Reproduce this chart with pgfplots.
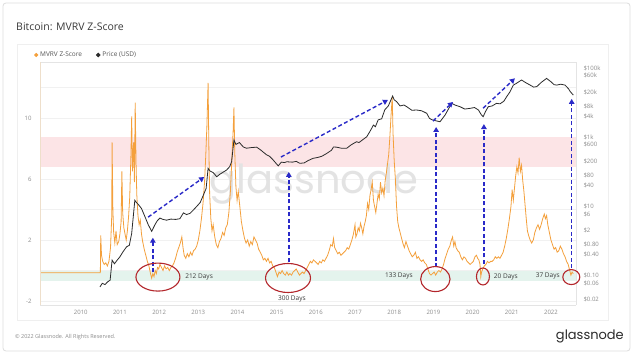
\documentclass[border=0pt]{standalone}
\usepackage{pgfplots}
\pgfplotsset{compat=1.18}
\usepackage{fontspec}
\setmainfont{Open Sans}
\newfontfamily\pop{Poppins}
\usetikzlibrary{arrows.meta}
\definecolor{zorange}{HTML}{F4A03C}
\definecolor{pblack}{HTML}{2B2B2B}
\definecolor{bandpink}{HTML}{FCE4E6}
\definecolor{bandgreen}{HTML}{E4F3ED}
\definecolor{arrowblue}{HTML}{2A2AC8}
\definecolor{cred}{HTML}{B3262B}
\definecolor{gridgray}{HTML}{F1F1F1}
\definecolor{labgray}{HTML}{8C8C8C}
\definecolor{axgray}{HTML}{E4E4E4}
\definecolor{axtan}{HTML}{EEDFCB}
\definecolor{wm}{HTML}{E3E3E3}
\definecolor{titlec}{HTML}{3A3A3A}
\definecolor{legtext}{HTML}{555555}
\definecolor{cardgray}{HTML}{DDDDDD}
\definecolor{panelgray}{HTML}{EFEFEF}

\pgfplotstableread{
x z
2008.96 -0.15
2010.50 -0.15
2010.51 2.3
2010.53 1.0
2010.56 0.6
2010.60 0.4
2010.64 0.5
2010.68 0.3
2010.72 0.6
2010.76 1.5
2010.79 3.5
2010.80 8.4
2010.82 4.0
2010.84 2.5
2010.87 1.8
2010.90 2.6
2010.93 1.7
2010.97 1.9
2011.00 2.4
2011.03 3.2
2011.05 6.5
2011.07 3.8
2011.10 2.8
2011.13 2.4
2011.16 2.0
2011.19 2.6
2011.22 3.5
2011.25 4.8
2011.28 7.5
2011.30 10.1
2011.32 6.5
2011.35 8.4
2011.37 5.8
2011.39 11.0
2011.41 7.2
2011.43 5.0
2011.46 3.6
2011.49 3.0
2011.52 3.3
2011.55 2.4
2011.58 1.9
2011.62 1.4
2011.66 1.0
2011.70 0.6
2011.74 0.3
2011.78 -0.2
2011.81 -0.5
2011.84 -0.2
2011.87 -0.4
2011.90 0.0
2011.93 -0.2
2011.96 0.2
2011.99 0.1
2012.02 0.4
2012.06 0.2
2012.10 0.0
2012.14 0.3
2012.18 0.1
2012.22 0.2
2012.26 0.0
2012.30 0.2
2012.34 0.3
2012.38 0.5
2012.42 0.8
2012.46 1.2
2012.50 1.5
2012.54 1.8
2012.58 2.2
2012.61 1.5
2012.64 1.0
2012.68 0.8
2012.72 1.1
2012.76 0.9
2012.80 1.2
2012.84 1.0
2012.88 1.3
2012.92 1.4
2012.96 1.6
2013.00 2.0
2013.04 2.6
2013.08 3.4
2013.12 4.4
2013.16 5.8
2013.19 7.5
2013.22 9.5
2013.25 12.3
2013.27 8.0
2013.29 5.0
2013.32 3.4
2013.35 2.6
2013.38 3.0
2013.42 2.2
2013.46 1.7
2013.50 1.5
2013.54 1.9
2013.58 2.1
2013.62 2.5
2013.66 2.3
2013.70 2.8
2013.74 3.0
2013.78 3.8
2013.82 5.2
2013.86 7.5
2013.89 9.2
2013.91 10.7
2013.93 7.8
2013.96 5.5
2013.99 4.6
2014.02 5.2
2014.06 4.2
2014.10 3.2
2014.14 2.6
2014.18 2.1
2014.22 1.8
2014.26 2.0
2014.30 1.6
2014.34 1.9
2014.38 1.7
2014.42 2.2
2014.46 2.0
2014.50 1.8
2014.54 1.4
2014.58 1.2
2014.62 1.0
2014.66 0.7
2014.70 0.8
2014.74 0.6
2014.78 0.8
2014.82 0.5
2014.86 0.6
2014.90 0.3
2014.94 0.2
2014.98 -0.1
2015.02 -0.4
2015.06 -0.1
2015.10 -0.2
2015.14 0.0
2015.18 -0.2
2015.22 -0.3
2015.26 -0.1
2015.30 -0.3
2015.34 -0.2
2015.38 -0.3
2015.42 -0.1
2015.46 0.0
2015.50 0.1
2015.54 -0.1
2015.58 -0.3
2015.62 -0.2
2015.66 -0.1
2015.70 -0.2
2015.74 0.0
2015.78 0.2
2015.82 0.4
2015.86 0.6
2015.90 0.5
2015.94 0.7
2015.98 0.6
2016.02 0.5
2016.06 0.4
2016.10 0.6
2016.14 0.5
2016.18 0.7
2016.22 0.6
2016.26 0.8
2016.30 1.0
2016.34 1.3
2016.38 1.7
2016.42 1.6
2016.45 2.1
2016.48 1.5
2016.52 1.3
2016.56 1.1
2016.60 1.2
2016.64 1.0
2016.68 1.1
2016.72 1.2
2016.76 1.3
2016.80 1.5
2016.84 1.4
2016.88 1.7
2016.92 2.0
2016.96 2.4
2017.00 3.0
2017.02 2.2
2017.05 2.4
2017.08 2.8
2017.11 2.6
2017.14 3.1
2017.17 2.8
2017.20 2.4
2017.23 2.9
2017.26 3.2
2017.29 3.6
2017.32 4.4
2017.35 4.0
2017.38 4.9
2017.41 5.3
2017.44 5.8
2017.47 4.6
2017.50 4.2
2017.53 3.8
2017.56 4.4
2017.59 5.0
2017.62 4.7
2017.65 5.8
2017.68 5.1
2017.71 5.4
2017.74 4.9
2017.77 5.9
2017.80 6.4
2017.83 7.0
2017.86 7.6
2017.89 8.8
2017.92 10.2
2017.95 11.4
2017.97 9.0
2018.00 7.2
2018.03 6.0
2018.06 4.2
2018.09 3.2
2018.12 2.8
2018.15 2.5
2018.18 2.2
2018.22 1.8
2018.26 1.5
2018.30 1.9
2018.34 1.6
2018.38 1.3
2018.42 1.1
2018.46 0.9
2018.50 1.0
2018.54 1.2
2018.58 0.8
2018.62 0.9
2018.66 0.7
2018.70 0.6
2018.74 0.7
2018.78 0.5
2018.82 0.4
2018.86 0.1
2018.90 -0.2
2018.94 -0.3
2018.98 -0.2
2019.02 -0.1
2019.06 -0.3
2019.10 -0.1
2019.14 0.0
2019.18 -0.1
2019.22 0.1
2019.26 0.4
2019.30 0.8
2019.34 1.1
2019.38 1.4
2019.42 1.6
2019.46 2.0
2019.49 2.2
2019.52 1.6
2019.55 1.9
2019.58 1.5
2019.62 1.3
2019.66 1.2
2019.70 0.9
2019.74 0.7
2019.78 0.9
2019.82 0.8
2019.86 0.6
2019.90 0.5
2019.94 0.4
2019.98 0.5
2020.02 0.6
2020.06 0.9
2020.10 1.0
2020.13 0.8
2020.16 0.7
2020.19 0.4
2020.21 -0.4
2020.23 -0.1
2020.26 0.1
2020.30 0.3
2020.34 0.4
2020.38 0.6
2020.42 0.5
2020.46 0.6
2020.50 0.6
2020.54 0.7
2020.58 0.9
2020.62 0.8
2020.66 0.9
2020.70 0.8
2020.74 1.0
2020.78 1.2
2020.82 1.6
2020.86 2.1
2020.90 2.7
2020.94 3.4
2020.98 4.2
2021.01 5.3
2021.04 4.6
2021.07 5.4
2021.10 6.2
2021.13 6.8
2021.16 6.4
2021.19 7.4
2021.22 6.5
2021.25 6.9
2021.28 5.9
2021.31 5.2
2021.34 4.3
2021.37 3.4
2021.40 2.6
2021.43 2.3
2021.47 2.0
2021.51 1.8
2021.55 2.0
2021.59 2.5
2021.63 2.8
2021.67 3.0
2021.71 2.7
2021.75 3.0
2021.79 3.4
2021.83 3.7
2021.86 3.4
2021.89 3.6
2021.92 3.0
2021.96 2.5
2022.00 2.0
2022.04 1.7
2022.08 1.4
2022.12 1.5
2022.16 1.2
2022.20 1.3
2022.24 1.6
2022.28 1.4
2022.32 1.1
2022.36 0.9
2022.40 0.6
2022.44 0.4
2022.48 0.0
2022.51 -0.3
2022.54 -0.1
2022.57 -0.2
}\zdata

\pgfplotstableread{
x p
2010.49 0.047
2010.55 0.06
2010.62 0.055
2010.68 0.065
2010.75 0.074
2010.80 0.28
2010.86 0.22
2010.92 0.27
2011.00 0.35
2011.08 0.49
2011.17 0.68
2011.24 0.75
2011.30 1.66
2011.34 5
2011.38 15
2011.42 13
2011.48 11
2011.55 8.7
2011.64 5
2011.72 3
2011.81 1.9
2011.89 2.9
2011.95 3.8
2012.02 4.6
2012.10 4.2
2012.19 4.0
2012.30 4.3
2012.42 4.2
2012.53 4.4
2012.62 6.5
2012.70 5.8
2012.79 6.3
2012.88 8
2012.96 10
2013.05 13
2013.12 20
2013.20 33
2013.25 126
2013.30 105
2013.38 95
2013.47 72
2013.55 85
2013.65 100
2013.72 112
2013.80 140
2013.85 195
2013.91 830
2013.96 620
2014.05 700
2014.15 520
2014.23 480
2014.35 500
2014.49 515
2014.60 420
2014.74 310
2014.82 280
2014.91 220
2015.04 148
2015.12 190
2015.20 185
2015.26 195
2015.40 190
2015.50 200
2015.59 176
2015.70 180
2015.80 210
2015.93 245
2016.05 260
2016.15 280
2016.28 340
2016.40 420
2016.45 520
2016.53 515
2016.65 480
2016.79 480
2016.90 600
2017.04 740
2017.10 700
2017.20 850
2017.30 1030
2017.40 1600
2017.47 2240
2017.52 2000
2017.59 3160
2017.68 3400
2017.76 6200
2017.85 8000
2017.96 15500
2018.00 12000
2018.06 10700
2018.15 8000
2018.25 8500
2018.32 7600
2018.45 6000
2018.57 6100
2018.70 5800
2018.83 4900
2018.90 3500
2018.96 3200
2019.05 3000
2019.17 2800
2019.30 4400
2019.40 7000
2019.47 9500
2019.55 8500
2019.68 7600
2019.80 6500
2019.93 6800
2020.05 7200
2020.15 6100
2020.22 4500
2020.27 3900
2020.33 5500
2020.40 7600
2020.50 8000
2020.61 9500
2020.70 9200
2020.80 11000
2020.87 14800
2020.95 20000
2021.04 32000
2021.12 36000
2021.25 45000
2021.35 38000
2021.47 32000
2021.56 28000
2021.64 29000
2021.75 38000
2021.89 50000
2022.00 40000
2022.08 33000
2022.15 32000
2022.25 34000
2022.36 32000
2022.45 25000
2022.49 21000
2022.57 16500
}\pdata

\begin{document}
\begin{tikzpicture}[x=1pt,y=1pt]
% canvas and card
\fill[white] (0,0) rectangle (634,361);
\draw[cardgray, line width=0.8pt, rounded corners=3pt] (3,10) rectangle (630,358);
\draw[panelgray, line width=0.5pt] (17,41) rectangle (608,317);

\begin{axis}[
  at={(40pt,56pt)}, anchor=south west,
  width=536pt, height=243pt, scale only axis,
  xmin=2008.96, xmax=2022.64, ymin=-2.26, ymax=13.67,
  axis line style={draw=none},
  xtick={2010,2011,...,2022},
  xticklabels={2010,2011,2012,2013,2014,2015,2016,2017,2018,2019,2020,2021,2022},
  ytick={-2,2,6,10}, yticklabels={-2,2,6,10},
  minor ytick={0,4,8,12},
  ymajorgrids, yminorgrids,
  major grid style={draw=gridgray, line width=0.5pt},
  minor grid style={draw=gridgray, line width=0.5pt},
  major tick length=0pt, minor tick length=0pt,
  xtick pos=bottom, ytick pos=left,
  /pgf/number format/assume math mode=true,
  tick label style={font=\fontsize{6}{7}\selectfont, text=labgray},
  xticklabel style={yshift=-1.5pt},
  yticklabel style={xshift=-5pt},
]
\fill[bandpink] (axis cs:2008.96,6.8) rectangle (axis cs:2022.64,8.75);
\fill[bandgreen] (axis cs:2008.96,-0.7) rectangle (axis cs:2022.64,-0.05);
\node[font=\pop\fontsize{40}{40}\selectfont, text=wm, anchor=base] at (axis cs:2015.95,5.08) {glassnode};
\addplot[zorange, line width=0.8pt] table[x=x, y=z] {\zdata};
% annotation anchors
\coordinate (a1s) at (axis cs:2011.84,-0.1);
\coordinate (a1e) at (axis cs:2011.84,2.15);
\coordinate (a2s) at (axis cs:2011.72,3.5);
\coordinate (a2e) at (axis cs:2013.15,6.13);
\coordinate (a3s) at (axis cs:2015.31,0.56);
\coordinate (a3e) at (axis cs:2015.31,6.46);
\coordinate (a4s) at (axis cs:2015.11,7.44);
\coordinate (a4e) at (axis cs:2017.84,11.18);
\coordinate (a5s) at (axis cs:2019.07,0.23);
\coordinate (a5e) at (axis cs:2019.07,9.41);
\coordinate (a6s) at (axis cs:2018.99,9.80);
\coordinate (a6e) at (axis cs:2019.50,11.05);
\coordinate (a7s) at (axis cs:2020.29,0.43);
\coordinate (a7e) at (axis cs:2020.29,9.60);
\coordinate (a8s) at (axis cs:2020.27,10.64);
\coordinate (a8e) at (axis cs:2021.08,12.6);
\coordinate (a9s) at (axis cs:2022.53,0.16);
\coordinate (a9e) at (axis cs:2022.53,11.25);
\coordinate (e1) at (axis cs:2011.97,-0.43);
\coordinate (e2) at (axis cs:2015.29,-0.49);
\coordinate (e3) at (axis cs:2019.05,-0.56);
\coordinate (e4) at (axis cs:2020.265,-0.39);
\coordinate (e5) at (axis cs:2022.52,-0.43);
\coordinate (t1) at (axis cs:2013.02,-0.43);
\coordinate (t2) at (axis cs:2015.39,-1.87);
\coordinate (t3) at (axis cs:2018.12,-0.36);
\coordinate (t4) at (axis cs:2020.85,-0.43);
\coordinate (t5) at (axis cs:2021.92,-0.36);
\end{axis}

\begin{axis}[
  at={(40pt,56pt)}, anchor=south west,
  width=536pt, height=243pt, scale only axis,
  xmin=2008.96, xmax=2022.64,
  ymode=log, ymin=0.01413, ymax=148900,
  axis line style={draw=none},
  xtick=\empty,
  ytick={100000,60000,20000,8000,4000,1000,600,200,80,40,10,6,2,0.8,0.4,0.1,0.06,0.02},
  yticklabels={\$100k,\$60k,\$20k,\$8k,\$4k,\$1k,\$600,\$200,\$80,\$40,\$10,\$6,\$2,\$0.80,\$0.40,\$0.10,\$0.06,\$0.02},
  yticklabel pos=right, ytick pos=right,
  major tick length=0pt, minor tick length=0pt,
  yminorticks=false,
  tick label style={font=\fontsize{6}{7}\selectfont, text=labgray},
  yticklabel style={xshift=4pt},
  legend style={at={(0,1)}, anchor=west, xshift=-9pt, yshift=7pt, draw=none, fill=none,
    font=\fontsize{6.5}{7}\selectfont, text=legtext, legend columns=2,
    /tikz/every even column/.append style={column sep=12pt}},
  legend image code/.code={\fill[#1] (1.7pt,0pt) circle (1.8pt);},
]
\addlegendimage{zorange}
\addlegendentry{MVRV Z-Score}
\addplot[pblack, line width=0.8pt] table[x=x, y=p] {\pdata};
\addlegendentry{Price (USD)}
\end{axis}

% axis lines
\draw[axgray, line width=0.5pt] (40,56) -- (576,56);
\draw[axgray, line width=0.5pt] (40,299) -- (576,299);
\draw[axtan, line width=0.6pt] (40,56) -- (40,299);
\draw[axgray, line width=0.6pt] (576,56) -- (576,299);

% arrows
\tikzset{barrow/.style={arrowblue, line width=1.4pt, dash pattern=on 4pt off 2.5pt, -{Triangle[length=5pt,width=5.5pt]}}}
\foreach \i in {1,...,9} {\draw[barrow] (a\i s) -- (a\i e);}

% circles
\draw[cred, line width=1.1pt] (e1) ellipse [x radius=22pt, y radius=14pt];
\draw[cred, line width=1.1pt] (e2) ellipse [x radius=22.5pt, y radius=14.5pt];
\draw[cred, line width=1.1pt] (e3) ellipse [x radius=14.7pt, y radius=12.5pt];
\draw[cred, line width=1.1pt] (e4) ellipse [x radius=6.5pt, y radius=8.5pt];
\draw[cred, line width=1.1pt] (e5) ellipse [x radius=8.5pt, y radius=7.5pt];

% day labels
\tikzset{dlab/.style={font=\fontsize{6.5}{7}\selectfont, text=titlec, inner sep=0pt}}
\node[dlab] at (t1) {212 Days};
\node[dlab] at (t2) {300 Days};
\node[dlab] at (t3) {133 Days};
\node[dlab] at (t4) {20 Days};
\node[dlab] at (t5) {37 Days};

% title and footer
\node[anchor=west, font=\fontsize{10.5}{12}\selectfont, text=titlec, inner sep=0pt] at (16,334) {Bitcoin: MVRV Z-Score};
\node[anchor=west, font=\fontsize{5.5}{6}\selectfont, text=labgray, inner sep=0pt] at (15,24) {© 2022 Glassnode. All Rights Reserved.};
\node[anchor=east, font=\pop\fontsize{13}{14}\selectfont, text=pblack, inner sep=0pt] at (624,25) {glassnode};
\end{tikzpicture}
\end{document}
